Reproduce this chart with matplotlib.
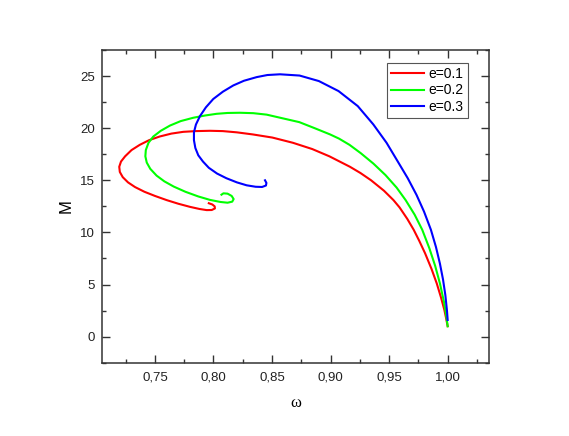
import matplotlib
matplotlib.use("Agg")
import matplotlib.pyplot as plt
from matplotlib.ticker import MultipleLocator, FuncFormatter

plt.rcParams['font.family'] = ['Liberation Sans', 'DejaVu Sans']

# curves, each traced from omega = 1 round to the spiral end

omega_01 = [1.0000, 0.9986, 0.9971, 0.9942, 0.9907, 0.9862, 0.9807, 0.9757, 0.9710,
            0.9655, 0.9589, 0.9537, 0.9456, 0.9346, 0.9255, 0.9165, 0.8990, 0.8843,
            0.8678, 0.8503, 0.8336, 0.8200, 0.8080, 0.7970, 0.7850, 0.7742, 0.7640,
            0.7540, 0.7450, 0.7370, 0.7300, 0.7245, 0.7210, 0.7195, 0.7200, 0.7225,
            0.7270, 0.7330, 0.7410, 0.7500, 0.7600, 0.7700, 0.7800, 0.7880, 0.7942,
            0.7985, 0.8012, 0.8010, 0.7990, 0.7960]
M_01 = [1.0, 1.8, 2.6, 3.8, 5.1, 6.5, 8.0, 9.2, 10.25,
        11.3, 12.4, 13.1, 14.0, 15.0, 15.7, 16.3, 17.3, 18.0,
        18.6, 19.1, 19.4, 19.6, 19.72, 19.75, 19.72, 19.65, 19.48,
        19.2, 18.85, 18.4, 17.9, 17.3, 16.8, 16.3, 15.8, 15.3,
        14.8, 14.35, 13.9, 13.5, 13.1, 12.75, 12.45, 12.25, 12.14,
        12.15, 12.3, 12.5, 12.68, 12.8]

omega_02 = [1.0000, 0.9988, 0.9969, 0.9934, 0.9893, 0.9843, 0.9783, 0.9718, 0.9641,
            0.9564, 0.9469, 0.9366, 0.9258, 0.9162, 0.9072, 0.8996, 0.8864, 0.8733,
            0.8570, 0.8454, 0.8340, 0.8226, 0.8120, 0.8027, 0.7930, 0.7827, 0.7720,
            0.7628, 0.7550, 0.7486, 0.7445, 0.7422, 0.7418, 0.7430, 0.7460, 0.7514,
            0.7580, 0.7660, 0.7760, 0.7870, 0.7970, 0.8060, 0.8120, 0.8160, 0.8172,
            0.8155, 0.8120, 0.8085, 0.8068]
M_02 = [1.0, 2.0, 3.3, 5.1, 6.8, 8.5, 10.25, 11.7, 13.1,
        14.3, 15.5, 16.6, 17.6, 18.4, 19.0, 19.4, 20.0, 20.58,
        21.0, 21.3, 21.44, 21.48, 21.46, 21.38, 21.22, 21.0, 20.68,
        20.25, 19.75, 19.2, 18.6, 17.9, 17.3, 16.7, 16.1, 15.45,
        14.9, 14.4, 13.9, 13.45, 13.12, 12.92, 12.85, 12.95, 13.2,
        13.5, 13.72, 13.75, 13.62]

omega_03 = [1.0000, 0.9994, 0.9980, 0.9960, 0.9934, 0.9900, 0.9857, 0.9798, 0.9734,
            0.9659, 0.9574, 0.9478, 0.9365, 0.9232, 0.9068, 0.8900, 0.8735, 0.8568,
            0.8460, 0.8369, 0.8260, 0.8169, 0.8080, 0.7998, 0.7935, 0.7884, 0.7850,
            0.7833, 0.7833, 0.7845, 0.7870, 0.7910, 0.7960, 0.8030, 0.8110, 0.8200,
            0.8283, 0.8360, 0.8415, 0.8448, 0.8452, 0.8440]
M_03 = [1.6, 2.5, 4.0, 5.5, 7.0, 8.6, 10.25, 12.0, 13.6,
        15.2, 16.8, 18.6, 20.36, 22.12, 23.56, 24.52, 25.05, 25.17,
        25.1, 24.9, 24.55, 24.1, 23.5, 22.8, 22.0, 21.15, 20.35,
        19.6, 18.85, 18.1, 17.4, 16.8, 16.2, 15.65, 15.2, 14.8,
        14.52, 14.38, 14.36, 14.5, 14.75, 15.0]

labels = ["e=0.1", "e=0.2", "e=0.3"]
colors = ["#ff0000", "#00ff00", "#0000ff"]

fig = plt.figure(figsize=(5.69, 4.36), dpi=100)
ax = fig.add_axes([0.1787, 0.1681, 0.6807, 0.7172])

for xs, ys, lab, col in zip([omega_01, omega_02, omega_03],
                            [M_01, M_02, M_03], labels, colors):
    ax.plot(xs, ys, color=col, lw=1.5, label=lab, solid_joinstyle='round')

ax.set_xlim(0.7045, 1.0353)
ax.set_ylim(-2.5, 27.5)

ax.xaxis.set_major_locator(MultipleLocator(0.05))
ax.xaxis.set_minor_locator(MultipleLocator(0.025))
ax.yaxis.set_major_locator(MultipleLocator(5))
ax.yaxis.set_minor_locator(MultipleLocator(2.5))
ax.xaxis.set_major_formatter(FuncFormatter(lambda v, p: ("%.2f" % v).replace(".", ",")))
ax.yaxis.set_major_formatter(FuncFormatter(lambda v, p: "%d" % round(v)))

ax.tick_params(which='both', direction='in', top=True, right=True,
               width=1, color='#333333', labelsize=9.5, labelcolor='#222222')
ax.tick_params(which='major', length=5.5)
ax.tick_params(which='minor', length=3)
ax.tick_params(axis='x', which='major', pad=6.5)
ax.tick_params(axis='y', which='major', pad=4.8)
for s in ax.spines.values():
    s.set_linewidth(1.1)
    s.set_color('#333333')

ax.set_xlabel("ω", family=['Liberation Serif', 'DejaVu Serif'], fontsize=12, labelpad=8)
ax.set_ylabel("M", fontsize=12, labelpad=4.5)

leg = ax.legend(loc='upper right', bbox_to_anchor=(0.945, 0.96), borderaxespad=0,
                fontsize=10, handlelength=2.4, handletextpad=0.3, labelspacing=0.2,
                borderpad=0.3, fancybox=False, framealpha=1, edgecolor='#555555')
leg.get_frame().set_linewidth(0.8)

plt.savefig("out.png", dpi=100)
